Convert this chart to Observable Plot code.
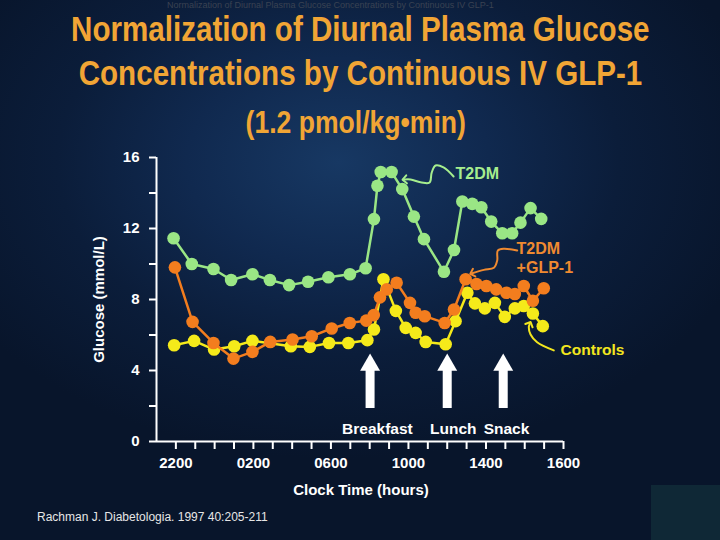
<!DOCTYPE html>
<html><head><meta charset="utf-8">
<script src="https://cdn.jsdelivr.net/npm/d3@7"></script>
<script src="https://cdn.jsdelivr.net/npm/@observablehq/plot@0.6"></script>
<style>
html,body{margin:0;padding:0;}
body{width:720px;height:540px;overflow:hidden;position:relative;
 background: radial-gradient(ellipse 60% 55% at 47% 30%, #173863 0%, #10294f 35%, #0b1d3a 65%, #08152b 100%);
 font-family:"Liberation Sans", Arial, sans-serif;}
#chart{position:absolute;left:0;top:0;}
.t{position:absolute;left:0;width:720px;text-align:center;color:#f1a535;font-weight:bold;white-space:nowrap;}
.t span{display:inline-block;transform-origin:center;}
#ghost{position:absolute;left:167px;top:1px;font-size:9px;line-height:9px;color:#3a4252;white-space:nowrap;}
#cite{position:absolute;left:37px;top:511px;font-size:12px;line-height:12px;color:#e6e6e6;white-space:nowrap;}
#box{position:absolute;left:651px;top:485px;width:69px;height:55px;background:#0f2836;}
</style>
</head><body>
<div id="box"></div>
<div id="ghost">Normalization of Diurnal Plasma Glucose Concentrations by Continuous IV GLP-1</div>
<div class="t" style="top:11px;font-size:35px;line-height:35px;"><span style="transform:scaleX(0.845)">Normalization of Diurnal Plasma Glucose</span></div>
<div class="t" style="top:55px;font-size:35px;line-height:35px;"><span style="transform:scaleX(0.845)">Concentrations by Continuous IV GLP-1</span></div>
<div class="t" style="top:105.5px;font-size:32px;line-height:32px;left:-4px;"><span style="transform:scaleX(0.83)">(1.2 pmol/kg•min)</span></div>
<div id="chart"></div>
<div id="cite">Rachman J. Diabetologia. 1997 40:205-211</div>
<script>
// Clock hours (22 = 2200, 26 = 0200 next day, ...)
const greenX = [21.88,22.82,23.94,24.85,25.95,26.85,27.84,28.82,29.87,30.98,31.79,32.22,32.40,32.57,33.13,33.68,34.28,34.80,35.83,36.35,36.78,37.29,37.76,38.27,38.84,39.35,39.78,40.30,40.85];
const greenY = [11.45,10.0,9.72,9.10,9.42,9.10,8.81,9.0,9.25,9.42,9.76,12.53,14.41,15.18,15.18,14.22,12.67,11.40,9.56,10.79,13.52,13.39,13.20,12.39,11.73,11.73,12.33,13.15,12.54];
const orangeX = [21.95,22.86,23.94,24.97,25.95,26.87,28.02,29.01,30.04,30.97,31.82,32.21,32.53,32.88,33.39,34.08,34.37,34.84,35.87,36.35,36.95,37.51,38.02,38.53,39.05,39.49,39.95,40.42,40.98];
const orangeY = [9.81,6.74,5.55,4.67,5.05,5.61,5.75,5.93,6.37,6.68,6.81,7.12,8.12,8.57,8.94,7.81,7.25,7.06,6.68,7.44,9.14,8.87,8.76,8.57,8.38,8.31,8.76,7.93,8.63];
const yellowX = [21.91,22.94,23.97,25.01,25.95,27.93,28.91,29.90,30.90,31.88,32.22,32.71,33.35,33.86,34.37,34.89,35.92,36.43,37.04,37.43,37.94,38.46,38.97,39.49,39.95,40.42,40.93];
const yellowY = [5.42,5.67,5.18,5.37,5.67,5.37,5.33,5.55,5.55,5.71,6.31,9.14,7.36,6.40,6.12,5.61,5.48,6.78,8.38,7.78,7.50,7.81,7.02,7.50,7.63,7.21,6.50];

const xTickHours = [22,26,30,34,38,42];
const xTickLabels = ["2200","0200","0600","1000","1400","1600"];
const yTicks = [0,2,4,6,8,10,12,14,16];
const yLabelTicks = [0,4,8,12,16];

const mealNames = ["Breakfast","Lunch","Snack"];
const mealArrowX = [32.02,36.0,38.89];
const mealLabelX = [32.40,36.31,39.06];

const greenArrowX = [36.33,35.81,35.40,35.20,35.09,34.68,34.11,33.80];
const greenArrowY = [14.93,15.44,15.55,15.15,14.59,14.59,14.76,14.76];
const orangeArrowX = [39.61,38.92,38.61,38.58,38.41,37.89,37.29];
const orangeArrowY = [10.76,10.86,10.76,10.20,9.79,9.67,9.48];
const controlsArrowX = [41.50,40.64,40.30,40.21,40.26];
const controlsArrowY = [5.13,5.59,6.03,6.44,6.63];

const GREEN = "#9ae685", ORANGE = "#f37d1e", YELLOW = "#f5ea1a";
const pts = (xs, ys) => xs.map((x, i) => ({x, y: ys[i]}));
const green = pts(greenX, greenY), orange = pts(orangeX, orangeY), yellow = pts(yellowX, yellowY);
const meals = mealNames.map((name, i) => ({name, ax: mealArrowX[i], lx: mealLabelX[i]}));

const chart = Plot.plot({
  width: 720, height: 540,
  marginLeft: 156, marginRight: 157, marginTop: 157, marginBottom: 99,
  x: {domain: [21, 42]},
  y: {domain: [0, 16]},
  style: {background: "transparent", color: "white", fontFamily: "'Liberation Sans', Arial, sans-serif", fontSize: "15px", fontWeight: "bold", overflow: "visible"},
  marks: [
    Plot.axisY({ticks: yTicks, tickFormat: d => yLabelTicks.includes(d) ? String(d) : "", tickSize: 7, tickPadding: 10, label: null, strokeWidth: 2}),
    Plot.axisX({ticks: d3.range(22, 43), tickFormat: () => "", tickSize: 8, label: null, strokeWidth: 2}),
    Plot.axisX({ticks: xTickHours, tickFormat: d => xTickLabels[xTickHours.indexOf(d)], tickSize: 0, tickPadding: 16, label: null}),
    Plot.ruleX([21], {stroke: "white", strokeWidth: 2}),
    Plot.ruleY([0], {stroke: "white", strokeWidth: 2}),
    Plot.text(["Glucose (mmol/L)"], {text: d => d, frameAnchor: "left", dx: -57, rotate: -90, textAnchor: "middle", fill: "white", fontSize: 15, fontWeight: "bold"}),
    Plot.text(["Clock Time (hours)"], {text: d => d, frameAnchor: "bottom", dy: 49, dx: 1, lineAnchor: "middle", fill: "white", fontSize: 15, fontWeight: "bold"}),
    // series
    Plot.line(green, {x: "x", y: "y", stroke: GREEN, strokeWidth: 2.5}),
    Plot.dot(green, {x: "x", y: "y", r: 6.3, fill: GREEN}),
    Plot.line(yellow, {x: "x", y: "y", stroke: YELLOW, strokeWidth: 2.5}),
    Plot.dot(yellow, {x: "x", y: "y", r: 6.3, fill: YELLOW}),
    Plot.line(orange, {x: "x", y: "y", stroke: ORANGE, strokeWidth: 2.5}),
    Plot.dot(orange, {x: "x", y: "y", r: 6.3, fill: ORANGE}),
    // callouts
    Plot.line(pts(greenArrowX, greenArrowY), {x: "x", y: "y", curve: "catmull-rom", stroke: "#a6ee8e", strokeWidth: 2, markerEnd: "arrow"}),
    Plot.line(pts(orangeArrowX, orangeArrowY), {x: "x", y: "y", curve: "catmull-rom", stroke: "#f08a30", strokeWidth: 2, markerEnd: "arrow"}),
    Plot.line(pts(controlsArrowX, controlsArrowY), {x: "x", y: "y", curve: "catmull-rom", stroke: "#f2e61e", strokeWidth: 2, markerEnd: "arrow"}),
    Plot.text([{x: 36.43, y: 15.1, t: "T2DM"}], {x: "x", y: "y", text: "t", textAnchor: "start", fill: "#a6ee8e", fontSize: 16, fontWeight: "bold"}),
    Plot.text([{x: 39.58, y: 10.39, t: "T2DM\n+GLP-1"}], {x: "x", y: "y", text: "t", textAnchor: "start", lineHeight: 1.2, fill: "#f08a30", fontSize: 16, fontWeight: "bold"}),
    Plot.text([{x: 41.85, y: 5.13, t: "Controls"}], {x: "x", y: "y", text: "t", textAnchor: "start", fill: "#f2e61e", fontSize: 15.5, fontWeight: "bold"}),
    // meal arrows
    Plot.ruleX(meals, {x: "ax", y1: 1.86, y2: 4.1, stroke: "white", strokeWidth: 9}),
    Plot.dot(meals, {x: "ax", y: 4.31, symbol: "triangle", r: 7.4, fill: "white", stroke: "none"}),
    Plot.text(meals, {x: "lx", y: 0.73, text: "name", fill: "white", fontSize: 15.5, fontWeight: "bold"})
  ]
});
document.getElementById("chart").appendChild(chart);
</script>
</body></html>
